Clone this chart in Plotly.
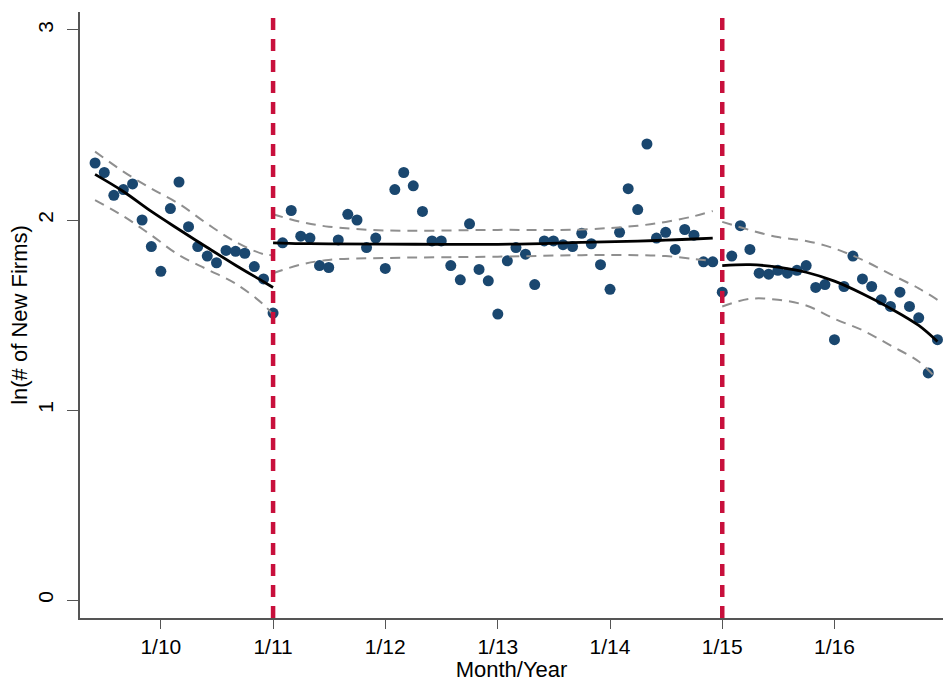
import pandas as pd
import plotly.graph_objects as go

# ---- data ----
months = pd.date_range("2009-06-01", "2016-12-01", freq="MS")
ln_new_firms = [
    # 2009 Jun-Dec
    2.30, 2.25, 2.13, 2.16, 2.19, 2.00, 1.86,
    # 2010
    1.73, 2.06, 2.20, 1.965, 1.86, 1.81, 1.775, 1.84, 1.835, 1.825, 1.755, 1.69,
    # 2011
    1.51, 1.88, 2.05, 1.915, 1.905, 1.76, 1.75, 1.895, 2.03, 2.00, 1.855, 1.905,
    # 2012
    1.745, 2.16, 2.25, 2.18, 2.045, 1.89, 1.89, 1.76, 1.685, 1.98, 1.74, 1.68,
    # 2013
    1.505, 1.785, 1.855, 1.82, 1.66, 1.89, 1.89, 1.87, 1.86, 1.93, 1.875, 1.765,
    # 2014
    1.635, 1.935, 2.165, 2.055, 2.40, 1.905, 1.935, 1.845, 1.95, 1.92, 1.78, 1.78,
    # 2015
    1.62, 1.81, 1.97, 1.845, 1.72, 1.715, 1.735, 1.72, 1.735, 1.76, 1.645, 1.66,
    # 2016
    1.37, 1.65, 1.81, 1.69, 1.65, 1.58, 1.545, 1.62, 1.545, 1.485, 1.195, 1.37,
]

# fitted lines and confidence bands
fit1_x = ["2009-06-01", "2009-09-01", "2009-12-01", "2010-03-01", "2010-06-01",
          "2010-09-01", "2010-12-01", "2011-01-01"]
fit1_y = [2.24, 2.15, 2.045, 1.95, 1.855, 1.762, 1.675, 1.645]
fit1_hi = [2.36, 2.255, 2.165, 2.085, 1.98, 1.885, 1.82, 1.815]
fit1_lo = [2.105, 2.02, 1.92, 1.815, 1.74, 1.665, 1.555, 1.50]

fit2_x = ["2011-01-01", "2011-04-01", "2011-07-01", "2012-01-01", "2013-01-01",
          "2013-10-01", "2014-04-01", "2014-07-01", "2014-10-01", "2014-12-01"]
fit2_y = [1.88, 1.876, 1.874, 1.873, 1.872, 1.882, 1.889, 1.894, 1.90, 1.905]
fit2_hi = [2.03, 1.99, 1.965, 1.945, 1.948, 1.95, 1.97, 1.99, 2.02, 2.047]
fit2_lo = [1.72, 1.765, 1.79, 1.80, 1.807, 1.815, 1.815, 1.81, 1.795, 1.785]

fit3_x = ["2015-01-01", "2015-04-01", "2015-07-01", "2015-10-01", "2016-01-01",
          "2016-04-01", "2016-07-01", "2016-10-01", "2016-12-01"]
fit3_y = [1.76, 1.765, 1.752, 1.725, 1.678, 1.612, 1.535, 1.445, 1.36]
fit3_hi = [1.99, 1.947, 1.91, 1.89, 1.85, 1.79, 1.715, 1.64, 1.58]
fit3_lo = [1.545, 1.585, 1.58, 1.55, 1.48, 1.42, 1.34, 1.255, 1.16]

break_dates = ["2011-01-01", "2015-01-01"]
tick_dates = ["2010-01-01", "2011-01-01", "2012-01-01", "2013-01-01",
              "2014-01-01", "2015-01-01", "2016-01-01"]
tick_labels = ["1/10", "1/11", "1/12", "1/13", "1/14", "1/15", "1/16"]

# ---- styles ----
NAVY = "#1A476F"
CI_GRAY = "#8F8F8F"
RED = "#C8103C"
AXIS = "#555555"
FONT = "Liberation Sans, Arial, sans-serif"
TICK_SIZE = 21
TITLE_SIZE = 22

fig = go.Figure()

fig.add_trace(go.Scatter(
    x=months, y=ln_new_firms, mode="markers",
    marker=dict(color=NAVY, size=11, line=dict(width=0)),
    showlegend=False, hoverinfo="x+y"))

for fx, fy, fhi, flo in [(fit1_x, fit1_y, fit1_hi, fit1_lo),
                          (fit2_x, fit2_y, fit2_hi, fit2_lo),
                          (fit3_x, fit3_y, fit3_hi, fit3_lo)]:
    for band in (fhi, flo):
        fig.add_trace(go.Scatter(
            x=fx, y=band, mode="lines",
            line=dict(color=CI_GRAY, width=2, dash="10px,7px", shape="spline"),
            showlegend=False, hoverinfo="skip"))
    fig.add_trace(go.Scatter(
        x=fx, y=fy, mode="lines",
        line=dict(color="black", width=2.8, shape="spline"),
        showlegend=False, hoverinfo="skip"))

for d in break_dates:
    fig.add_shape(type="line", xref="x", yref="paper", x0=d, x1=d, y0=0, y1=1,
                  line=dict(color=RED, width=4.5, dash="12px,9px"), layer="above")

fig.update_layout(
    width=945, height=682,
    margin=dict(l=80, r=2, t=12, b=64),
    paper_bgcolor="white", plot_bgcolor="white",
    font=dict(family=FONT, size=TICK_SIZE, color="black"),
    showlegend=False,
)

fig.update_xaxes(
    type="date", range=["2009-04-13", "2016-12-19"],
    tickmode="array", tickvals=tick_dates, ticktext=tick_labels,
    showgrid=False, zeroline=False,
    showline=True, linecolor=AXIS, linewidth=1.6,
    ticks="outside", ticklen=9, tickwidth=1.3, tickcolor=AXIS,
    tickfont=dict(family=FONT, size=TICK_SIZE, color="black"),
    title=dict(text="Month/Year", font=dict(family=FONT, size=TITLE_SIZE, color="black"), standoff=2),
)

fig.update_yaxes(
    range=[-0.0947, 3.0947],
    tickmode="array", tickvals=[0, 1, 2, 3], ticktext=["0", "1", "2", "3"],
    tickangle=-90,
    showgrid=False, zeroline=False,
    showline=True, linecolor=AXIS, linewidth=1.6,
    ticks="outside", ticklen=11, tickwidth=1.3, tickcolor=AXIS,
    ticklabelstandoff=6,
    tickfont=dict(family=FONT, size=TICK_SIZE, color="black"),
    title=dict(text="ln(# of New Firms)", font=dict(family=FONT, size=TITLE_SIZE, color="black"), standoff=0),
)

fig.write_html("out.html")
